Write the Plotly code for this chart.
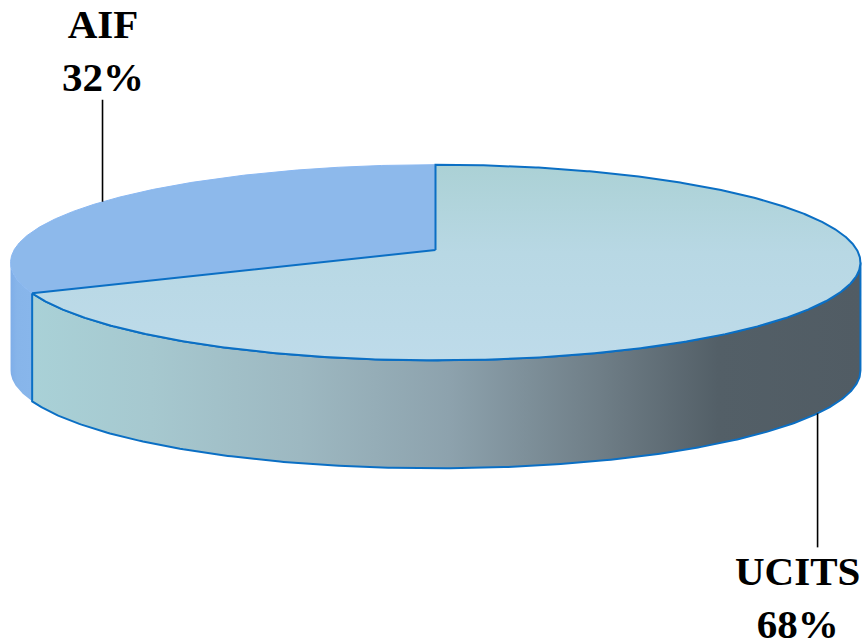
import numpy as np
import plotly.graph_objects as go

# ---- data ----
categories = ["AIF", "UCITS"]
shares = [32, 68]          # percent
label_texts = ["AIF<br>32%", "UCITS<br>68%"]

# ---- geometry / style constants ----
W, H = 867, 640
CX, CY = 435.5, 250.0      # projected pie centre (pixels)
FOCAL = 3203.0
CAM_DIST = 7.6
ELEV = np.radians(13.2)
DEPTH = 108.0              # thickness of the pie in pixels
START_DEG = 90.0
EDGE = "#0B6FC4"

top_styles = {
    "AIF": dict(fillcolor="#8DB9EB", line=dict(color="#8AB8F2", width=1)),
    "UCITS": dict(fillgradient=dict(type="vertical",
                                    colorscale=[[0, "#BEDBEA"], [0.55, "#B8D8E4"], [1, "#ABD1D5"]]),
                  line=dict(color=EDGE, width=2)),
}
side_styles = {
    "AIF": dict(fillgradient=dict(type="horizontal",
                                  colorscale=[[0, "#7FAEE8"], [0.3, "#87B5EA"], [1, "#88B6EB"]]),
                line=dict(color="rgba(0,0,0,0)", width=0)),
    "UCITS": dict(fillgradient=dict(type="horizontal",
                                    colorscale=[[0, "#A9D1D7"], [0.144, "#A6C8CF"], [0.324, "#9DB8C1"],
                                                [0.504, "#8DA2AD"], [0.684, "#6F7E87"], [0.828, "#535F67"],
                                                [1, "#515C64"]]),
                  line=dict(color=EDGE, width=2)),
}
leader_len = {"AIF": 102, "UCITS": 134}
label_dx = {"AIF": 0, "UCITS": -20}
label_dy = {"AIF": -2, "UCITS": 1}


def project(phi_deg):
    phi = np.radians(phi_deg)
    x, y = np.cos(phi), np.sin(phi)
    den = CAM_DIST + y * np.cos(ELEV)
    sx = FOCAL * x / den
    sy = FOCAL * y * np.sin(ELEV) / den
    return CX + sx, CY - sy


total = float(sum(shares))
bounds = START_DEG + np.cumsum([0] + shares) / total * 360.0

grid = np.linspace(180, 360, 36001)
gx, _ = project(grid)
sil_left = grid[np.argmin(gx)]
sil_right = grid[np.argmax(gx)]

fig = go.Figure()

# sides (front half only)
for i, cat in enumerate(categories):
    a, b = bounds[i], bounds[i + 1]
    lo, hi = max(a, sil_left), min(b, sil_right)
    if hi <= lo:
        continue
    ang = np.linspace(lo, hi, 300)
    tx, ty = project(ang)
    xs = np.concatenate([tx, tx[::-1], tx[:1]])
    ys = np.concatenate([ty, ty[::-1] + DEPTH, ty[:1]])
    fig.add_trace(go.Scatter(x=xs, y=ys, mode="lines", fill="toself",
                             hoverinfo="skip", showlegend=False, **side_styles[cat]))

# top faces
for i, cat in enumerate(categories):
    a, b = bounds[i], bounds[i + 1]
    ang = np.linspace(a, b, 600)
    tx, ty = project(ang)
    xs = np.concatenate([[CX], tx, [CX]])
    ys = np.concatenate([[CY], ty, [CY]])
    fig.add_trace(go.Scatter(x=xs, y=ys, mode="lines", fill="toself",
                             hoverinfo="skip", showlegend=False, **top_styles[cat]))

# leader lines + labels
annotations = []
for i, cat in enumerate(categories):
    m = (bounds[i] + bounds[i + 1]) / 2.0
    px, py = project(m)
    px, py = float(px), float(py)
    if np.sin(np.radians(m)) > 0:
        y0, y1 = py, py - leader_len[cat]
        yanchor = "bottom"
    else:
        y0 = py + DEPTH
        y1 = y0 + leader_len[cat]
        yanchor = "top"
    fig.add_trace(go.Scatter(x=[px, px], y=[y0, y1], mode="lines",
                             line=dict(color="black", width=1.6),
                             hoverinfo="skip", showlegend=False))
    annotations.append(dict(x=px + label_dx[cat], y=y1 - label_dy[cat], xref="x", yref="y",
                            text="<b>" + label_texts[i].replace("<br>", "</b><br><b>") + "</b>",
                            showarrow=False, yanchor=yanchor, xanchor="center",
                            font=dict(family="Liberation Serif, Times New Roman, serif",
                                      size=41, color="black")))

fig.update_layout(
    width=W, height=H,
    margin=dict(l=0, r=0, t=0, b=0),
    paper_bgcolor="white", plot_bgcolor="white",
    xaxis=dict(range=[0, W], visible=False, fixedrange=True),
    yaxis=dict(range=[H, 0], visible=False, fixedrange=True),
    annotations=annotations,
)

fig.write_html("out.html",
               config={"displayModeBar": False, "staticPlot": True},
               post_script="document.body.style.margin='0';document.body.style.overflow='hidden';")
